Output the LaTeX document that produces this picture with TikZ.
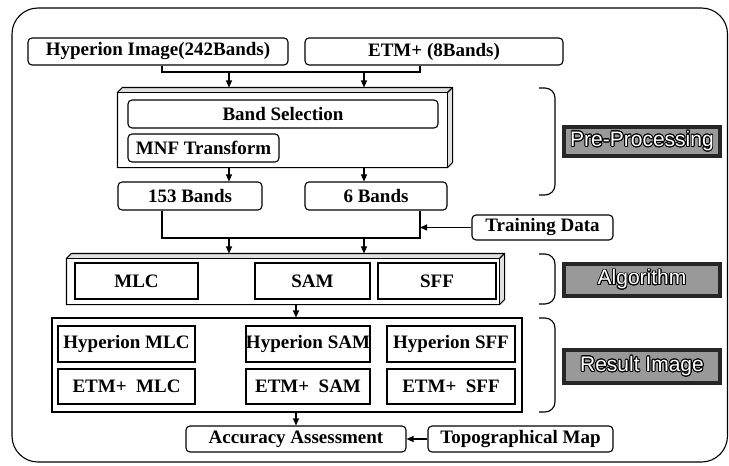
\documentclass[tikz,border=0pt]{standalone}
\usepackage{fontspec}
\setmainfont{Liberation Serif}
\newfontfamily\labfont{Liberation Sans}
\usepackage{contour}
\contourlength{0.9pt}
\usetikzlibrary{arrows.meta,calc}
\newcommand\slabdraw[2]{%
  \fill[black!12] ($(#1.north west)+(0,#2)$) -- ($(#1.north west)+(#2,0)$) -- (#1.north east)
     -- ($(#1.south east)+(0,-#2)$) -- ($(#1.south east)+(-#2,0)$) -- ($(#1.north east)+(-#2,#2)$) -- cycle;
  \draw ($(#1.south west)$) -- ($(#1.north west)+(0,#2)$) -- ($(#1.north west)+(#2,0)$) -- (#1.north east)
     -- ($(#1.south east)+(0,-#2)$) -- ($(#1.south east)+(-#2,0)$) -- cycle;
  \draw ($(#1.north west)+(0,#2)$) -- ($(#1.north east)+(-#2,#2)$) -- ($(#1.south east)+(-#2,0)$);
  \draw ($(#1.north east)+(-#2,#2)$) -- (#1.north east);
}
\begin{document}
\begin{tikzpicture}[x=1pt,y=-1pt,
  line width=1.1pt,
  box/.style={draw, line width=1.1pt, inner sep=0pt, font=\bfseries\fontsize{19}{21}\selectfont},
  rbox/.style={box, rounded corners=4pt},
  slab/.style={inner sep=0pt},
  arr/.style={-{Triangle[length=7pt,width=6pt]}},
  lab/.style={draw=black!85, line width=4pt, fill=black!40, inner sep=0pt, minimum width=156pt,
     font=\labfont\fontsize{21}{22}\selectfont},
]
\useasboundingbox (0,0) rectangle (729,466);
% outer frame
\draw[rounded corners=26pt, line width=1.1pt] (12,8) rectangle (727.5,462);

% top inputs
\node[rbox, minimum width=260pt, minimum height=27pt] (hyp) at (158,51.5) {Hyperion Image(242Bands)};
\node[rbox, minimum width=258pt, minimum height=27pt] (etm) at (434,51.5) {ETM+ (8Bands)};

% pre-processing slab
\path node[slab, minimum width=334pt, minimum height=79pt] (pre) at (285,127.5) {};
\slabdraw{pre}{5}
\node[rbox, minimum width=310pt, minimum height=28pt] (bsel) at (283,114) {Band Selection};
\node[rbox, minimum width=151pt, minimum height=28pt] (mnf) at (203.5,148) {MNF Transform};

\node[rbox, minimum width=144pt, minimum height=28pt] (b153) at (190,196) {153 Bands};
\node[rbox, minimum width=142pt, minimum height=28pt] (b6) at (376,196) {6 Bands};
\node[rbox, minimum width=141pt, minimum height=25pt] (train) at (542.5,227.5) {Training Data};

% algorithm slab
\path node[slab, minimum width=437pt, minimum height=50pt] (alg) at (285.5,279) {};
\slabdraw{alg}{5}
\node[box, minimum width=123pt, minimum height=36pt] (mlc) at (136.5,281) {MLC};
\node[box, minimum width=115pt, minimum height=36pt] (sam) at (312.5,281) {SAM};
\node[box, minimum width=118pt, minimum height=36pt] (sff) at (437,281) {SFF};

% result
\node[box, minimum width=470pt, minimum height=94pt] (res) at (287,365) {};
\node[box, minimum width=137pt, minimum height=36pt] (hmlc) at (126.5,344) {Hyperion MLC};
\node[box, minimum width=137pt, minimum height=35pt] (emlc) at (126.5,386.5) {ETM+\ \ MLC};
\node[box, minimum width=124pt, minimum height=36pt] (hsam) at (308,344) {Hyperion SAM};
\node[box, minimum width=124pt, minimum height=35pt] (esam) at (308,386.5) {ETM+\ \ SAM};
\node[box, minimum width=128pt, minimum height=36pt] (hsff) at (451,344) {Hyperion SFF};
\node[box, minimum width=128pt, minimum height=35pt] (esff) at (451,386.5) {ETM+\ \ SFF};

\node[rbox, minimum width=220pt, minimum height=26pt] (acc) at (296,439) {Accuracy Assessment};
\node[rbox, minimum width=185pt, minimum height=26pt] (topo) at (520.5,439) {Topographical Map};

% connectors
\coordinate (xl) at (162,0);
\coordinate (xa) at (229,0);
\coordinate (xb) at (364,0);
\coordinate (xr) at (420,0);
\coordinate (xc) at (296,0);
\coordinate (m1) at (0,72);
\coordinate (m2) at (0,238);
\draw (hyp.south -| xl) -- (xl |- m1) -- (xr |- m1) -- (etm.south -| xr);
\draw[arr] (xa |- m1) -- (pre.north -| xa);
\draw[arr] (xb |- m1) -- (pre.north -| xb);
\draw[arr] (pre.south -| xa) -- (b153.north -| xa);
\draw[arr] (pre.south -| xb) -- (b6.north -| xb);
\draw (b153.south -| xl) -- (xl |- m2) -- (xr |- m2) -- (b6.south -| xr);
\draw[arr] (train.west) -- (train.west -| xr);
\draw[arr] (xa |- m2) -- (alg.north -| xa);
\draw[arr] (xb |- m2) -- (alg.north -| xb);
\draw[arr] (alg.south -| xc) -- (res.north -| xc);
\draw[arr] (res.south -| xc) -- (acc.north -| xc);
\draw[arr] (topo.west) -- (acc.east);

% brackets
\draw[rounded corners=10pt] (539,88) -- (555,88) -- (555,195) -- (539,195);
\draw[rounded corners=10pt] (539,254) -- (555,254) -- (555,304) -- (539,304);
\draw[rounded corners=10pt] (539,318) -- (555,318) -- (555,412) -- (539,412);

% labels
\node[lab, minimum height=29pt] (lpre) at (642,141.5) {\color{white}\contour{black}{Pre-Processing}};
\node[lab, minimum height=32pt] (lalg) at (642,280) {\color{white}\contour{black}{Algorithm}};
\node[lab, minimum height=33pt] (lres) at (642,366.5) {\color{white}\contour{black}{Result Image}};
\end{tikzpicture}
\end{document}
